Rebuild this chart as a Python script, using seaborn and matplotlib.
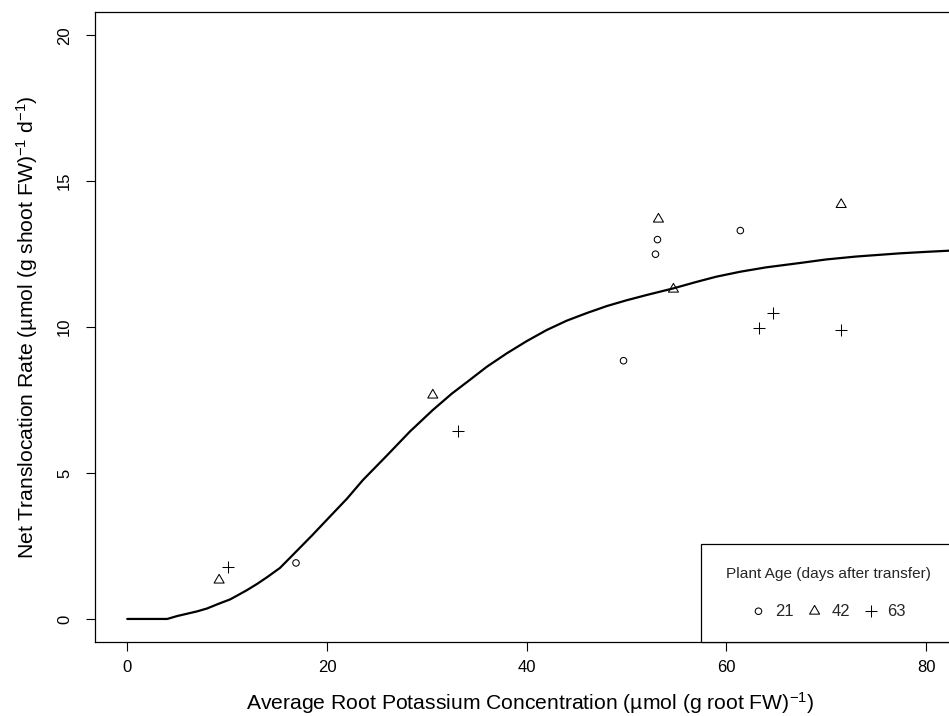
import matplotlib
matplotlib.use("Agg")
import matplotlib.pyplot as plt
from matplotlib.path import Path
from matplotlib.patches import Rectangle
import numpy as np
import pandas as pd
import seaborn as sns

# Observed translocation rates by plant age (days after transfer)
age21_x = [16.9, 49.7, 52.9, 53.1, 61.4]
age21_y = [1.92, 8.85, 12.50, 13.00, 13.31]
age42_x = [9.2, 30.6, 53.2, 54.7, 71.5]
age42_y = [1.33, 7.67, 13.70, 11.30, 14.20]
age63_x = [10.1, 33.1, 63.3, 64.7, 71.5]
age63_y = [1.77, 6.45, 9.96, 10.50, 9.90]

# Fitted response curve
curve_x = [0, 4, 5, 6, 7, 8, 9, 10.3, 11, 12, 13, 14, 15.3, 16.6, 18.5, 20.3,
           22, 23.6, 26, 28.3, 30.6, 32.5, 34.3, 36, 38, 40, 42, 44, 46, 48,
           50, 52, 54.7, 57, 59, 61.4, 64, 67.4, 70, 73, 77.4, 80, 82.3, 84]
curve_y = [0, 0, 0.1, 0.18, 0.26, 0.36, 0.5, 0.67, 0.8, 0.99, 1.2, 1.43,
           1.75, 2.2, 2.86, 3.51, 4.12, 4.76, 5.6, 6.42, 7.16, 7.72, 8.19,
           8.64, 9.1, 9.52, 9.9, 10.22, 10.48, 10.72, 10.92, 11.1, 11.33,
           11.55, 11.73, 11.9, 12.05, 12.2, 12.32, 12.42, 12.53, 12.58, 12.62,
           12.65]

x_ticks = [0, 20, 40, 60, 80]
y_ticks = [0, 5, 10, 15, 20]

sns.set_theme(style="ticks")
plt.rcParams["font.family"] = ["Liberation Sans", "DejaVu Sans"]
plt.rcParams["mathtext.fontset"] = "custom"
plt.rcParams["mathtext.rm"] = "Liberation Sans"
plt.rcParams["mathtext.it"] = "Liberation Sans:italic"
plt.rcParams["mathtext.default"] = "regular"

fig = plt.figure(figsize=(9.49, 7.16), dpi=100)
fig.patch.set_facecolor("white")
W, H = 949, 716
ax_left, ax_bottom, ax_w, ax_h = 95, 642.3, 871, 630.3   # pixels
ax = fig.add_axes([ax_left / W, 1 - ax_bottom / H, ax_w / W, ax_h / H])
ax.set_facecolor("white")


def px_to_axes(px, py):
    return (px - ax_left) / ax_w, (ax_bottom - py) / ax_h


# equilateral open triangle with its centroid on the data point
tri = Path([(0, 1), (-0.866, -0.5), (0.866, -0.5), (0, 1)],
           [Path.MOVETO, Path.LINETO, Path.LINETO, Path.CLOSEPOLY])

sns.lineplot(x=curve_x, y=curve_y, color="black", linewidth=1.6, sort=False,
             ax=ax)

pts = pd.DataFrame({
    "x": age21_x + age42_x + age63_x,
    "y": age21_y + age42_y + age63_y,
    "age": ["21"] * 5 + ["42"] * 5 + ["63"] * 5,
})

sns.scatterplot(data=pts[pts.age == "21"], x="x", y="y", marker="o", s=22,
                facecolor="none", edgecolor="black", linewidth=0.75,
                label="21", ax=ax)
sns.scatterplot(data=pts[pts.age == "42"], x="x", y="y", marker=tri, s=70,
                facecolor="none", edgecolor="black", linewidth=0.75,
                label="42", ax=ax)
sns.scatterplot(data=pts[pts.age == "63"], x="x", y="y", marker="+", s=64,
                color="black", linewidth=0.75, label="63", ax=ax)

ax.set_xlim(-3.23, 84.0)
ax.set_ylim(-0.8, 20.8)
ax.set_xticks(x_ticks)
ax.set_yticks(y_ticks)
ax.set_xticklabels([str(v) for v in x_ticks])
ax.set_yticklabels([str(v) for v in y_ticks], rotation=90, va="center")

for sp in ax.spines.values():
    sp.set_color("black")
    sp.set_linewidth(0.9)
ax.tick_params(direction="out", length=6.5, width=0.8, color="black",
               labelsize=12, labelcolor="black")
ax.tick_params(axis="x", pad=6)
ax.tick_params(axis="y", pad=10)

ax.set_xlabel(r"Average Root Potassium Concentration (µmol (g root FW)$^{-1}$)",
              fontsize=15.2, color="black")
ax.set_ylabel(r"Net Translocation Rate (µmol (g shoot FW)$^{-1}$ d$^{-1}$)",
              fontsize=15.2, color="black")
ax.xaxis.label.set_va("center")
ax.yaxis.label.set_va("center")
ax.xaxis.set_label_coords(0.5, (ax_bottom - 703) / ax_h)
ax.yaxis.set_label_coords((27 - ax_left) / ax_w, 0.5)

# legend frame in the lower-right corner of the plotting region
fx0, fy0 = px_to_axes(701, ax_bottom)
fx1, fy1 = px_to_axes(ax_left + ax_w, 544)
ax.add_patch(Rectangle((fx0, fy0), fx1 - fx0, fy1 - fy0, transform=ax.transAxes,
                       facecolor="white", edgecolor="black", linewidth=0.9,
                       zorder=4, clip_on=False))

cx, cy = px_to_axes(828, 593)
leg = ax.legend(title="Plant Age (days after transfer)", ncol=3,
                loc="center", bbox_to_anchor=(cx, cy), borderaxespad=0,
                frameon=False, fontsize=12, title_fontsize=11.1,
                handlelength=1.0, handletextpad=0.5, columnspacing=0.75,
                borderpad=0.0, scatterpoints=1)
leg.set_zorder(5)
leg._legend_box.sep = 16

fig.savefig("out.png", dpi=100, facecolor="white")
